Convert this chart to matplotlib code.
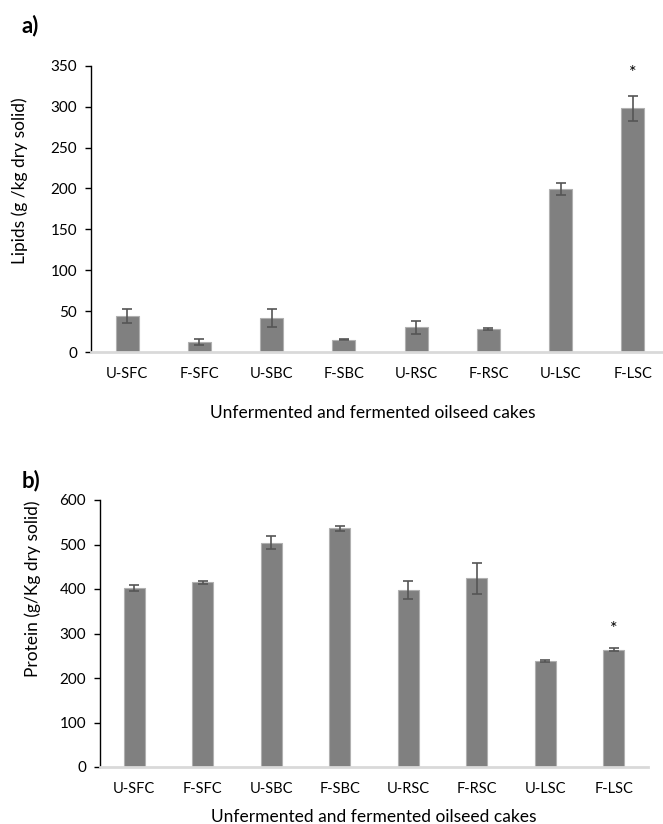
import numpy as np
import matplotlib.pyplot as plt

plt.rcParams['font.family'] = ['Lato', 'DejaVu Sans']

cakes = ['U-SFC', 'F-SFC', 'U-SBC', 'F-SBC', 'U-RSC', 'F-RSC', 'U-LSC', 'F-LSC']
lipids = [44, 12, 41, 15, 30, 28, 199, 298]
lipids_err = [8.5, 3.5, 11, 0.5, 7.5, 1, 7, 15.5]
protein = [402, 415, 504, 536, 398, 424, 238, 264]
protein_err = [7, 3.5, 14.5, 5.5, 21, 35, 3, 2.5]
star_idx = 7
star_lipids = 341
star_protein = 309

W, H = 663, 824
fig = plt.figure(figsize=(W / 100, H / 100), dpi=100)

def panel(rect, vals, errs, ymax, step, ylabel, ylab_xy, xlab_xy, tag, tagy, star_y, barw):
    ax = fig.add_axes(rect)
    x = np.arange(len(cakes))
    ax.bar(x, vals, width=barw, color='#808080', edgecolor='#b0b0b0', linewidth=0.8, zorder=2)
    ax.errorbar(x, vals, yerr=errs, fmt='none', ecolor='#555555', elinewidth=1.2,
                capsize=3.3, capthick=1.2, zorder=3)
    ax.text(star_idx, star_y, '*', ha='center', va='center', fontsize=13, color='black')
    ax.set_xlim(-0.5, 7.5)
    ax.set_ylim(0, ymax)
    ax.set_yticks(np.arange(0, ymax + 1, step))
    ax.set_xticks(x)
    ax.set_xticklabels(cakes)
    for s in ['top', 'right']:
        ax.spines[s].set_visible(False)
    ax.spines['bottom'].set_color('#d9d9d9')
    ax.spines['bottom'].set_linewidth(2)
    ax.spines['left'].set_linewidth(1)
    ax.tick_params(axis='x', length=0, pad=11, labelsize=10.5)
    ax.tick_params(axis='y', length=4, width=1, pad=6, labelsize=11)
    ax.set_ylabel(ylabel, fontsize=12.5)
    ax.yaxis.set_label_coords(*ylab_xy)
    ax.yaxis.label.set_va('center')
    ax.set_xlabel('Unfermented and fermented oilseed cakes', fontsize=12.5)
    ax.xaxis.set_label_coords(*xlab_xy)
    ax.xaxis.label.set_va('center')
    fig.text(22 / W, 1 - tagy / H, tag, fontsize=16, fontweight='bold', va='center', ha='left')
    return ax

# panel a: plot area from x=91 to 669 px, y=65.7 to 352 px
panel([91 / W, (H - 352) / H, 578 / W, 286.3 / H], lipids, lipids_err, 350, 50,
      'Lipids (g /kg dry solid)', (-0.123, 0.60), (0.488, -0.213), 'a)', 26, star_lipids, 0.32)
# panel b: plot area from x=100 to 648 px, y=500 to 767 px
panel([100 / W, (H - 767) / H, 548 / W, 267 / H], protein, protein_err, 600, 100,
      'Protein (g/Kg dry solid)', (-0.122, 0.667), (0.5, -0.187), 'b)', 481, star_protein, 0.31)

fig.savefig('out.png', dpi=100)
